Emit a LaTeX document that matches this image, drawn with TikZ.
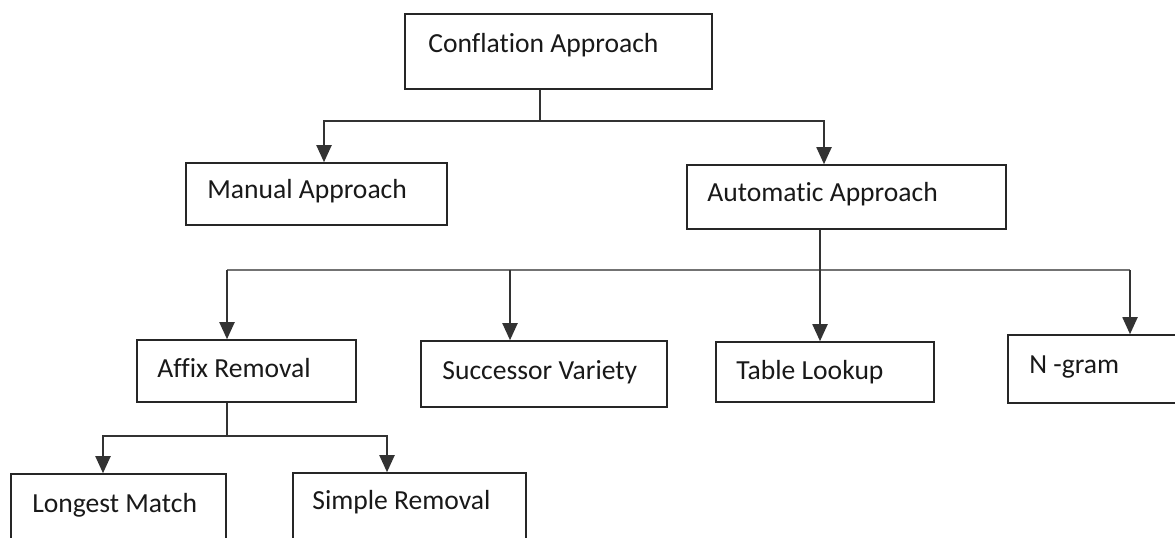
\documentclass[tikz,border=0pt]{standalone}
\usepackage{fontspec}
\setmainfont[Ligatures={NoCommon}]{Carlito}
\usetikzlibrary{arrows.meta,fit}
\tikzset{
  box/.style={draw=black!85, line width=0.9pt, inner sep=0pt, rectangle},
  txt/.style={inner sep=0pt, anchor=base west, text=black!90, font=\fontsize{15.7pt}{18pt}\selectfont},
  conn/.style={draw=black!80, line width=1.1pt},
  bus/.style={draw=black!55, line width=1.1pt},
  arr/.style={conn, -{Triangle[length=0.34cm,width=0.3cm]}},
}
\begin{document}
\begin{tikzpicture}[x=0.02cm,y=-0.02cm]
\useasboundingbox (0,0) rectangle (1175,537);
\clip (0,0) rectangle (1175,537);
\fill[white] (0,0) rectangle (1175,537);
% boxes
\node[box, fit={(405,14) (712,89)}] (conf) {};
\node[box, fit={(186,163) (447,225)}] (man) {};
\node[box, fit={(687,165) (1006,229)}] (auto) {};
\node[box, fit={(137,340) (356,402)}] (affix) {};
\node[box, fit={(421,341) (667,407)}] (succ) {};
\node[box, fit={(716,342) (934,402)}] (table) {};
\node[box, fit={(1008,335) (1200,403)}] (ngram) {};
\node[box, fit={(11,474) (226,570)}] (longest) {};
\node[box, fit={(293,473) (526,570)}] (simple) {};
% texts
\node[txt] (tconf) at (428,52) {Conflation Approach};
\node[txt] (tman) at (207,198) {Manual Approach};
\node[txt] (tauto) at (707,201) {Automatic Approach};
\node[txt] (taffix) at (157,377) {Affix Removal};
\node[txt] (tsucc) at (442,379) {Successor Variety};
\node[txt] (ttable) at (736,379) {Table Lookup};
\node[txt] (tngram) at (1029,373) {N -gram};
\node[txt] (tlong) at (32,512) {Longest Match};
\node[txt] (tsimple) at (312,509) {Simple Removal};
% junctions and arrow columns
\coordinate (j1) at (540,121);
\coordinate (xman) at (324,0);
\coordinate (xauto) at (824,0);
\coordinate (j2) at (820,270);
\coordinate (xaffix) at (227,0);
\coordinate (xsucc) at (510,0);
\coordinate (xngram) at (1130,0);
\coordinate (j3) at (227,436);
\coordinate (xlong) at (103,0);
\coordinate (xsimple) at (387,0);
% level 1
\draw[conn] (j1 |- conf.south) -- (j1);
\draw[arr] (j1) -| (xman |- man.north);
\draw[arr] (j1) -| (xauto |- auto.north);
% level 2
\draw[bus] (xaffix |- j2) -- (xngram |- j2);
\draw[arr] (j2 |- auto.south) -- (j2 |- table.north);
\draw[arr] (xaffix |- j2) -- (xaffix |- affix.north);
\draw[arr] (xsucc |- j2) -- (xsucc |- succ.north);
\draw[arr] (xngram |- j2) -- (xngram |- ngram.north);
% level 3
\draw[conn] (j3 |- affix.south) -- (j3);
\draw[arr] (j3) -| (xlong |- longest.north);
\draw[arr] (j3) -| (xsimple |- simple.north);
\end{tikzpicture}
\end{document}
